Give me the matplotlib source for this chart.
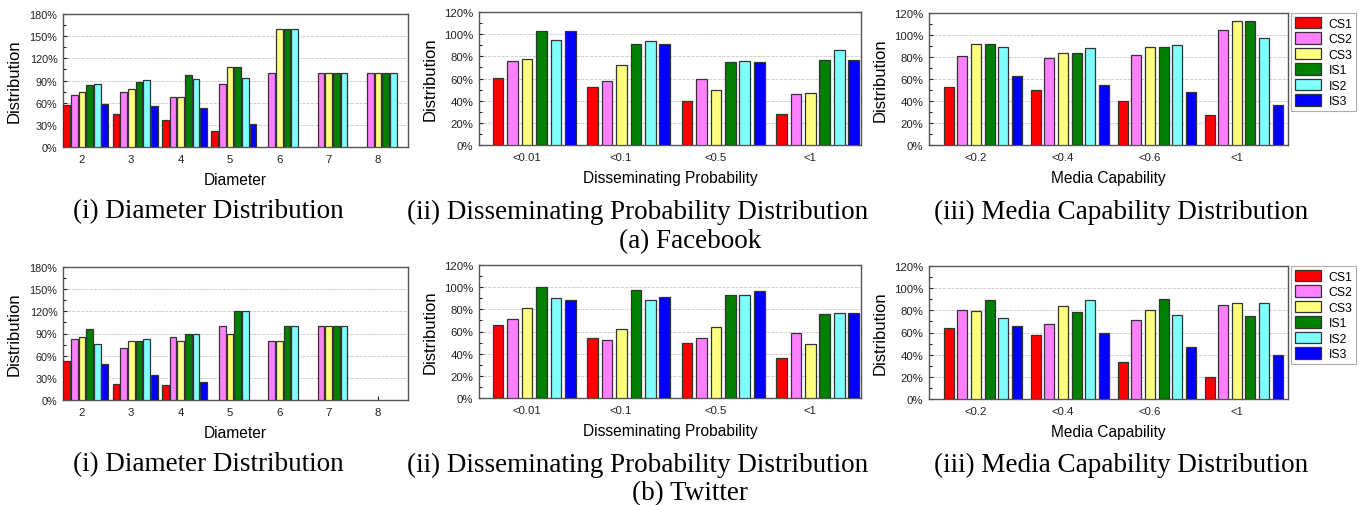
import numpy as np
import matplotlib
matplotlib.use("Agg")
import matplotlib.pyplot as plt
from matplotlib.ticker import MultipleLocator, FuncFormatter
from matplotlib.patches import Patch

# ================================
# Data (values in %)
# ================================
series = ["CS1", "CS2", "CS3", "IS1", "IS2", "IS3"]
colors = ["#FF0000", "#FF80FF", "#FFFF80", "#008000", "#80FFFF", "#0000FF"]

diameter_cats = [2, 3, 4, 5, 6, 7, 8]
prob_cats = ["<0.01", "<0.1", "<0.5", "<1"]
media_cats = ["<0.2", "<0.4", "<0.6", "<1"]

# Facebook
fb_diameter = {
    "CS1": [57, 44, 36, 21, 0, 0, 0],
    "CS2": [71, 74, 67, 85, 100, 100, 100],
    "CS3": [74, 78, 68, 108, 160, 100, 100],
    "IS1": [84, 88, 98, 108, 160, 100, 100],
    "IS2": [85, 91, 92, 93, 160, 100, 100],
    "IS3": [58, 55, 53, 31, 0, 0, 0],
}
fb_prob = {
    "CS1": [60.5, 52, 40, 28],
    "CS2": [75.5, 58, 60, 46],
    "CS3": [78, 72, 49.5, 47],
    "IS1": [103, 91.5, 74.5, 76.5],
    "IS2": [95, 94, 76, 85.5],
    "IS3": [103, 91.5, 74.5, 76.5],
}
fb_media = {
    "CS1": [53, 50, 40, 27],
    "CS2": [80.5, 79.5, 82, 104.5],
    "CS3": [91.5, 83.5, 89, 113],
    "IS1": [91.5, 83.5, 89, 113],
    "IS2": [89.5, 88, 90.5, 97.5],
    "IS3": [62.5, 55, 48, 36],
}

# Twitter
tw_diameter = {
    "CS1": [53, 22, 20, 0, 0, 0, 0],
    "CS2": [82, 70, 85, 100, 80, 100, 0],
    "CS3": [85, 80, 80, 90, 80, 100, 0],
    "IS1": [96, 80, 90, 120, 100, 100, 0],
    "IS2": [76, 83, 90, 120, 100, 100, 0],
    "IS3": [49, 33.5, 25, 0, 0, 0, 0],
}
tw_prob = {
    "CS1": [66, 54, 49.5, 36.5],
    "CS2": [71, 52.5, 54, 59],
    "CS3": [81, 62.5, 64, 49],
    "IS1": [100, 97.5, 92.5, 76],
    "IS2": [90, 88.5, 92.5, 77],
    "IS3": [88.5, 91.5, 96.5, 77],
}
tw_media = {
    "CS1": [64.5, 57.5, 33.5, 20],
    "CS2": [80, 68, 71, 85],
    "CS3": [79, 84, 80, 87],
    "IS1": [89, 78.5, 90, 74.5],
    "IS2": [73, 89.5, 76, 86.5],
    "IS3": [66, 60, 46.5, 40],
}

# ================================
# Figure
# ================================
W, H = 1359, 506
fig = plt.figure(figsize=(W / 100, H / 100), dpi=100)
sans = "Liberation Sans"
serif = "Liberation Serif"


def add_ax(left, top, right, bottom):
    return fig.add_axes([left / W, 1 - bottom / H, (right - left) / W, (bottom - top) / H])


def draw(ax, xs, data, xlim, ymax, ystep, width, pitch, xlabel, width_px,
         xticklabels=None, ysize=8.2, xsize=8.2):
    xs = np.asarray(xs, dtype=float)
    for j, name in enumerate(series):
        vals = np.array(data[name], dtype=float)
        vals = np.where(vals > 0, vals, np.nan)
        ax.bar(xs + 0.08 + (j - 2.5) * pitch, vals, width=width, color=colors[j],
               edgecolor="#333333", linewidth=0.9, zorder=3)
    ax.set_xlim(*xlim)
    ax.set_ylim(0, ymax)
    ax.set_xticks(xs)
    if xticklabels is not None:
        ax.set_xticklabels(xticklabels)
    ax.yaxis.set_major_locator(MultipleLocator(ystep))
    ax.yaxis.set_minor_locator(MultipleLocator(ystep / 2))
    ax.yaxis.set_major_formatter(FuncFormatter(lambda v, p: f"{v:.0f}%"))
    ax.grid(axis="y", which="major", linestyle="--", color="#c8c8c8", linewidth=0.6, zorder=0)
    ax.tick_params(axis="both", which="both", direction="in", colors="#222222",
                   length=3, width=0.8)
    ax.tick_params(axis="y", which="minor", length=2)
    ax.tick_params(axis="y", labelsize=ysize, pad=4)
    ax.tick_params(axis="x", labelsize=xsize, length=3, pad=5)
    for lab in ax.get_xticklabels() + ax.get_yticklabels():
        lab.set_fontfamily(sans)
    for sp in ax.spines.values():
        sp.set_color("#555555")
        sp.set_linewidth(1.0)
    ax.set_xlabel(xlabel, fontsize=11.2, fontfamily=sans, labelpad=6)
    ax.set_ylabel("Distribution", fontsize=12, fontfamily=sans)
    ax.yaxis.set_label_coords(-41 / width_px, 0.5)


rows = [
    (fb_diameter, fb_prob, fb_media, 15, 148, 13, 146, 14, 146),
    (tw_diameter, tw_prob, tw_media, 268, 401, 266, 399, 267, 400),
]

for (d_dia, d_prob, d_med, t1, b1, t2, b2, t3, b3) in rows:
    ax1 = add_ax(63, t1, 408, b1)
    draw(ax1, diameter_cats, d_dia, (1.62, 8.61), 180, 30, 0.135, 0.155, "Diameter", 345,
         ysize=7.8, xsize=8.2)

    ax2 = add_ax(479, t2, 861, b2)
    draw(ax2, range(len(prob_cats)), d_prob, (-0.505, 3.54), 120, 20, 0.113, 0.153,
         "Disseminating Probability", 382, prob_cats)

    ax3 = add_ax(929, t3, 1288, b3)
    draw(ax3, range(len(media_cats)), d_med, (-0.54, 3.59), 120, 20, 0.115, 0.157,
         "Media Capability", 359, media_cats)

    handles = [Patch(facecolor=c, edgecolor="#333333", linewidth=0.9) for c in colors]
    leg = ax3.legend(handles, series, loc="upper left", bbox_to_anchor=(1.008, 1.0),
                     handlelength=2.2, handleheight=1.1, handletextpad=0.6,
                     labelspacing=0.2, borderpad=0.3, borderaxespad=0, frameon=True,
                     fancybox=False, prop={"family": sans, "size": 8.8})
    leg.get_frame().set_edgecolor("#999999")
    leg.get_frame().set_linewidth(0.8)

# ================================
# Captions
# ================================
caps = [
    (208, "(i) Diameter Distribution"),
    (638, "(ii) Disseminating Probability Distribution"),
    (1121, "(iii) Media Capability Distribution"),
]
for y_sub, y_main, main in [(212, 242, "(a) Facebook"), (465, 494, "(b) Twitter")]:
    for xc, txt in caps:
        fig.text(xc / W, 1 - y_sub / H, txt, ha="center", va="center",
                 fontsize=19.5, fontfamily=serif)
    fig.text(690 / W, 1 - y_main / H, main, ha="center", va="center",
             fontsize=19.5, fontfamily=serif)

fig.savefig("out.png", dpi=100)
